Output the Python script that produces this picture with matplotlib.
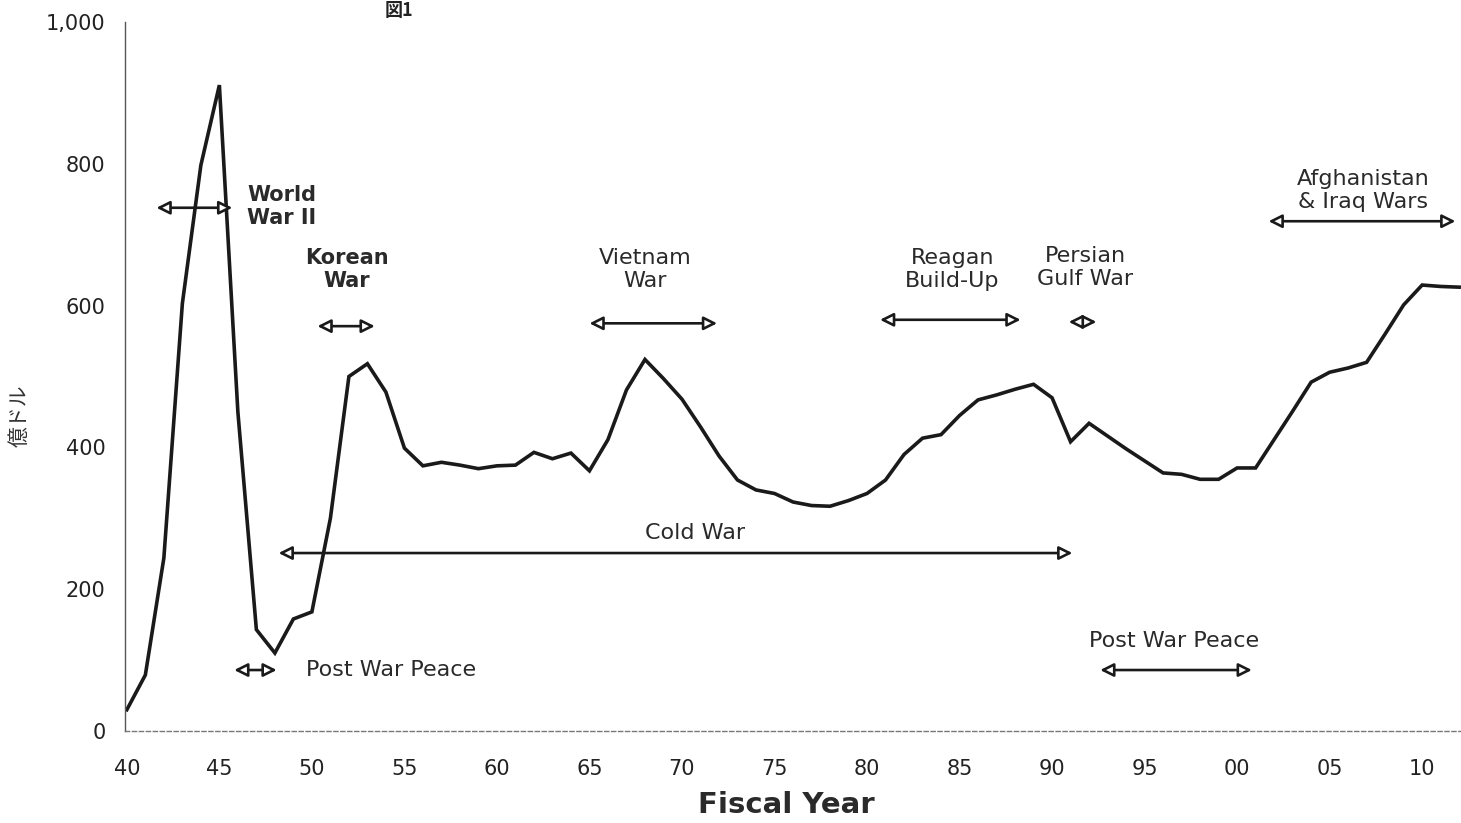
import matplotlib
matplotlib.use('Agg')
import matplotlib.pyplot as plt

plt.rcParams['font.family'] = ['DejaVu Sans', 'Noto Sans CJK JP']

# 国防支出 (億ドル) ---- 読み取り値
years = list(range(1940, 2013))
spending = [
    30, 79, 244, 603, 798, 911, 450, 143, 110, 158,      # 1940-49
    168, 300, 500, 518, 478, 399, 374, 379, 375, 370,    # 1950-59
    374, 375, 393, 384, 392, 367, 411, 481, 524, 497,    # 1960-69
    468, 429, 388, 354, 340, 335, 323, 318, 317, 325,    # 1970-79
    335, 354, 390, 413, 418, 445, 467, 474, 482, 489,    # 1980-89
    470, 408, 434, 416, 398, 381, 364, 362, 355, 355,    # 1990-99
    371, 371, 411, 451, 492, 506, 512, 520, 560, 601,    # 2000-09
    629, 627, 626,                                       # 2010-12
]

tick_years = list(range(1940, 2011, 5))
tick_labels = ['40', '45', '50', '55', '60', '65', '70', '75',
               '80', '85', '90', '95', '00', '05', '10']
y_ticks = [0, 200, 400, 600, 800, 1000]
y_tick_labels = ['0', '200', '400', '600', '800', '1,000']

# 期間注記: (開始年, 終了年, 矢印の高さ)
periods = {
    'ww2': (1941.6, 1945.7, 738),
    'korea': (1950.3, 1953.4, 571),
    'peace1': (1945.8, 1948.1, 86),
    'vietnam': (1965.0, 1971.9, 575),
    'cold': (1948.2, 1991.1, 251),
    'reagan': (1980.7, 1988.3, 580),
    'gulf': (1990.9, 1992.4, 577),
    'peace2': (1992.6, 2000.8, 86),
    'afg': (2001.7, 2011.8, 719),
}

fig = plt.figure(figsize=(14.61, 8.23), dpi=100)
ax = fig.add_axes([125 / 1461, 1 - 731 / 823, 1 - 125 / 1461, (731 - 22) / 823])

ax.plot(years, spending, color='#1a1a1a', linewidth=2.6, solid_joinstyle='miter')

ax.set_xlim(1939.9, 2012.1)
ax.set_ylim(0, 1000)
ax.set_xticks(tick_years)
ax.set_xticklabels(tick_labels)
ax.set_yticks(y_ticks)
ax.set_yticklabels(y_tick_labels)
ax.tick_params(axis='x', length=0, pad=20, labelsize=15, colors='#222222')
ax.tick_params(axis='y', length=0, pad=14, labelsize=15, colors='#222222')

for side in ['top', 'right']:
    ax.spines[side].set_visible(False)
ax.spines['left'].set_color('#555555')
ax.spines['left'].set_linewidth(1.0)
ax.spines['bottom'].set_color('#777777')
ax.spines['bottom'].set_linewidth(1.0)
ax.spines['bottom'].set_linestyle((0, (3, 2)))

# 両矢印 (白抜きの矢じり)
for name, (x0, x1, yv) in periods.items():
    ax.annotate('', xy=(x0, yv), xytext=(x1, yv),
                arrowprops=dict(arrowstyle='<|-|>,head_length=0.8,head_width=0.4',
                                fc='white', ec='#1a1a1a', lw=1.9,
                                shrinkA=0, shrinkB=0))

bold = dict(fontsize=15, fontweight='bold', color='#2a2a2a')
normal = dict(fontsize=16, color='#2a2a2a')

ax.text(1946.5, 740, 'World\nWar II', ha='left', va='center', linespacing=1.2, **bold)
ax.text(1951.9, 621, 'Korean\nWar', ha='center', va='bottom', linespacing=1.2, **bold)
ax.text(1949.7, 86, 'Post War Peace', ha='left', va='center', **normal)
ax.text(1968.0, 621, 'Vietnam\nWar', ha='center', va='bottom', linespacing=1.2, **normal)
ax.text(1970.7, 265, 'Cold War', ha='center', va='bottom', **normal)
ax.text(1984.6, 621, 'Reagan\nBuild-Up', ha='center', va='bottom', linespacing=1.2, **normal)
ax.text(1991.8, 623, 'Persian\nGulf War', ha='center', va='bottom', linespacing=1.2, **normal)
ax.text(1996.6, 113, 'Post War Peace', ha='center', va='bottom', **normal)
ax.text(2006.8, 732, 'Afghanistan\n& Iraq Wars', ha='center', va='bottom', linespacing=1.2, **normal)

ax.set_xlabel('Fiscal Year', fontsize=21, fontweight='bold', color='#2a2a2a', labelpad=6)
ax.xaxis.set_label_coords((786 - 125) / (1461 - 125), -0.085)
fig.text(20 / 1461, 1 - 416 / 823, '億ドル', rotation=90, ha='center', va='center',
         fontsize=15, color='#333333', family=['Noto Sans CJK JP', 'DejaVu Sans'])

# スキャン上端の図番号 (縮小して枠内へ)
fig.text(385 / 1461, 1 - 1 / 823, '図1', ha='left', va='top', fontsize=13,
         fontweight='bold', color='#222222', family=['Noto Sans CJK JP', 'DejaVu Sans'])

fig.savefig('out.png', dpi=100, facecolor='white')
